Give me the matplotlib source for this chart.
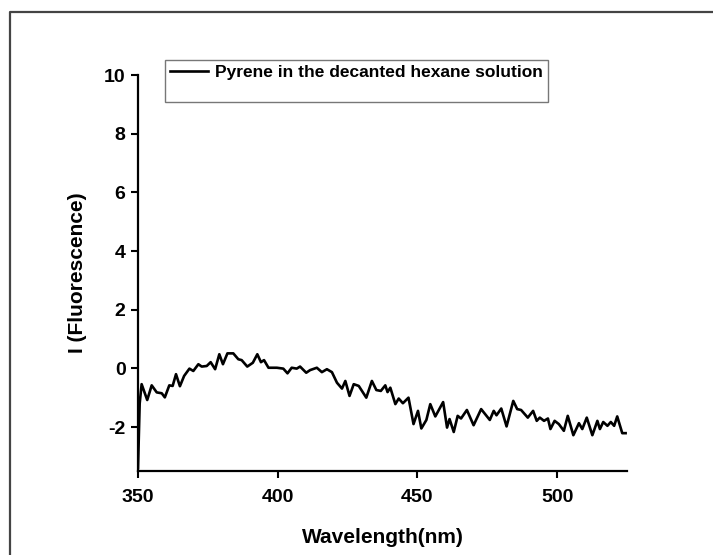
import matplotlib
matplotlib.use('Agg')
import matplotlib.pyplot as plt
from matplotlib.lines import Line2D

plt.rcParams['font.family'] = ['Liberation Sans', 'DejaVu Sans']
plt.rcParams['font.weight'] = 'bold'

# Values
wavelength = [350.0, 350.6, 351.3, 353.3, 354.9, 356.7, 358.5, 359.6, 361.2, 362.4,
              363.6, 365.0, 366.5, 368.4, 369.8, 371.6, 372.8, 374.6, 376.0, 377.6,
              379.1, 380.4, 382.0, 384.1, 385.9, 387.1, 389.1, 391.1, 392.7, 394.0,
              395.1, 396.7, 399.7, 402.0, 403.5, 405.0, 406.8, 408.0, 410.2, 411.6,
              414.0, 415.8, 417.6, 419.4, 421.2, 423.0, 424.2, 425.7, 427.2, 429.0,
              431.7, 433.7, 435.3, 436.9, 438.5, 439.3, 440.3, 442.1, 443.3, 444.8,
              446.8, 448.6, 450.2, 451.4, 453.2, 454.6, 456.4, 459.2, 460.6, 461.5,
              463.0, 464.4, 465.6, 467.7, 470.1, 472.8, 475.9, 477.3, 478.3, 480.0,
              481.9, 484.3, 485.7, 487.1, 489.5, 491.4, 492.7, 493.8, 495.3, 496.7,
              497.6, 499.1, 500.6, 502.4, 503.8, 505.8, 507.8, 509.0, 510.6, 512.6,
              514.4, 515.3, 516.5, 518.0, 519.2, 520.4, 521.5, 523.3, 524.5]
intensity = [-3.4, -1.2, -0.54, -1.08, -0.58, -0.82, -0.85, -0.99, -0.58, -0.60,
             -0.20, -0.61, -0.26, -0.01, -0.09, 0.14, 0.06, 0.08, 0.21, -0.03,
             0.48, 0.14, 0.51, 0.51, 0.31, 0.28, 0.06, 0.19, 0.48, 0.21,
             0.28, 0.02, 0.02, -0.01, -0.17, 0.02, -0.01, 0.06, -0.15, -0.06,
             0.02, -0.13, -0.03, -0.13, -0.49, -0.69, -0.43, -0.94, -0.54, -0.60,
             -1.00, -0.43, -0.74, -0.77, -0.58, -0.81, -0.66, -1.22, -1.03, -1.19,
             -1.00, -1.90, -1.45, -2.05, -1.76, -1.22, -1.64, -1.15, -2.02, -1.73,
             -2.17, -1.62, -1.71, -1.42, -1.94, -1.39, -1.76, -1.45, -1.60, -1.37,
             -1.98, -1.11, -1.39, -1.42, -1.68, -1.45, -1.79, -1.68, -1.79, -1.71,
             -2.07, -1.79, -1.90, -2.13, -1.62, -2.28, -1.87, -2.07, -1.68, -2.28,
             -1.79, -2.07, -1.83, -1.96, -1.83, -1.96, -1.64, -2.21, -2.21]

x_ticks = [350, 400, 450, 500]
y_ticks = [-2, 0, 2, 4, 6, 8, 10]
y_tick_labels = ['-2', '0', '2', '4', '6', '8', '10']

fig = plt.figure(figsize=(7.13, 5.55), dpi=100)
ax = fig.add_axes([138/713, 84/555, 489/713, 396/555])

line, = ax.plot(wavelength, intensity, color='black', linewidth=1.9)

ax.set_xlim(350, 525)
ax.set_ylim(-3.5, 10)
ax.set_xticks(x_ticks)
ax.set_yticks(y_ticks)
ax.set_yticklabels(y_tick_labels)
ax.spines['top'].set_visible(False)
ax.spines['right'].set_visible(False)
for s in ['left', 'bottom']:
    ax.spines[s].set_linewidth(1.6)
ax.tick_params(direction='out', length=5, width=1.5, labelsize=14)
ax.tick_params(axis='x', pad=8)
ax.tick_params(axis='y', pad=4)
for lab in ax.get_xticklabels() + ax.get_yticklabels():
    lab.set_fontweight('bold')

ax.set_xlabel('Wavelength(nm)', fontsize=15, fontweight='bold', labelpad=16)
ax.set_ylabel('I (Fluorescence)', fontsize=15, fontweight='bold', labelpad=12)

# legend box in the original has an empty second row
blank = Line2D([], [], linestyle='none')
leg = fig.legend([line, blank], ['Pyrene in the decanted hexane solution', ' '],
                 loc='upper left', bbox_to_anchor=(165/713, 1 - 60/555),
                 prop={'size': 12.5, 'weight': 'bold'}, fancybox=False,
                 frameon=True, handlelength=2.2, handletextpad=0.4,
                 borderpad=0.3, labelspacing=0.05, borderaxespad=0)
leg.get_frame().set_edgecolor('#555555')
leg.get_frame().set_linewidth(1.0)

# outer frame (only left and top edges visible in the picture)
fig.add_artist(Line2D([10/713, 10/713, 1.0], [0.0, 1 - 12/555, 1 - 12/555],
                      transform=fig.transFigure, color='#444444', linewidth=1.6))

fig.savefig('out.png', dpi=100)
